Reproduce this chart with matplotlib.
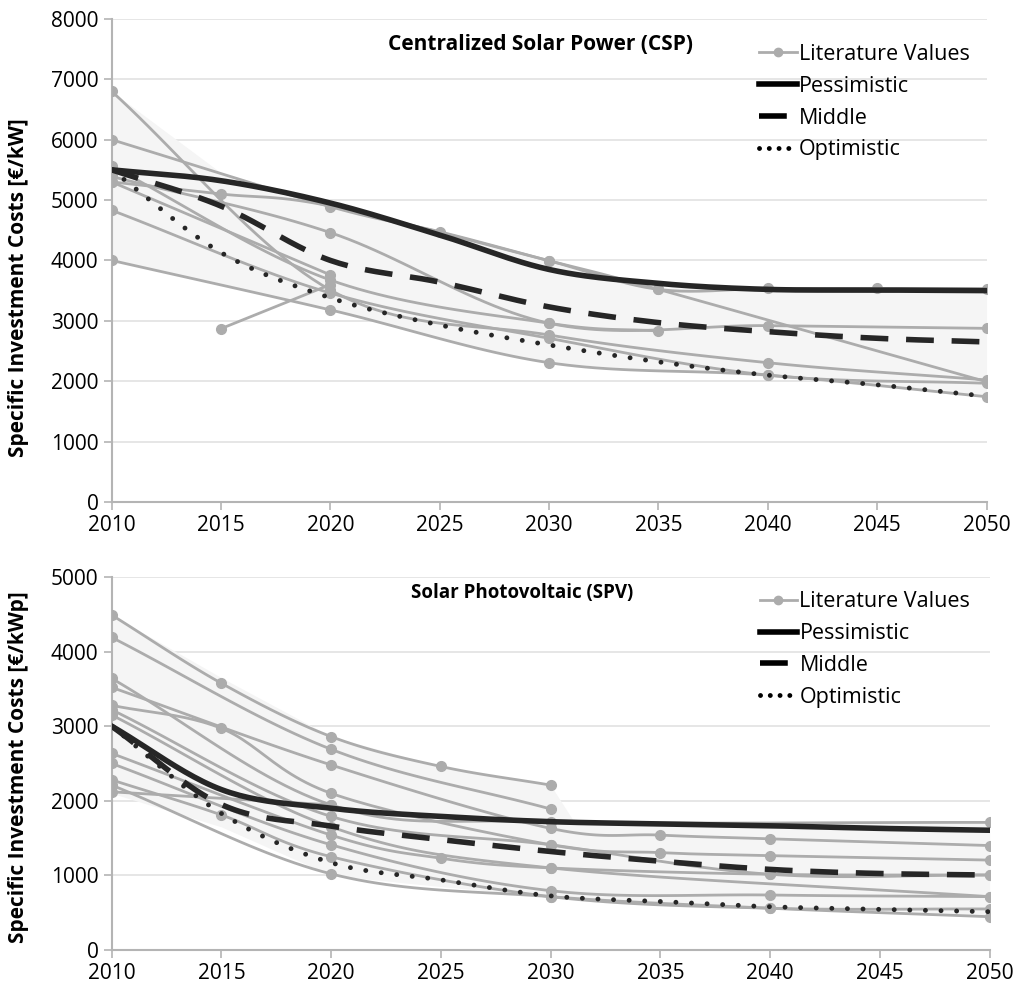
import matplotlib
matplotlib.use('Agg')
import matplotlib.pyplot as plt
from matplotlib.lines import Line2D
import numpy as np

plt.rcParams['font.family'] = ['Open Sans', 'DejaVu Sans']

# ---- CSP data (top panel) ----
csp_years = [2010, 2015, 2020, 2025, 2030, 2035, 2040, 2045, 2050]
csp_pess = [5500, 5320, 4950, 4420, 3850, 3620, 3520, 3510, 3500]
csp_mid = [5500, 4900, 4000, 3640, 3230, 2970, 2820, 2710, 2650]
csp_opt = [5500, 4130, 3380, 2930, 2600, 2320, 2100, 1940, 1750]

csp_lit = [
    ([2010, 2020, 2030, 2040, 2050], [6800, 3510, 2765, 2306, 2020]),
    ([2010, 2020, 2025, 2030, 2035, 2040, 2045, 2050], [6000, 4890, 4475, 3995, 3520, 3535, 3535, 3530]),
    ([2010, 2015, 2020, 2030, 2035, 2050], [5300, 5100, 4900, 3995, 3520, 1990]),
    ([2010, 2020, 2030, 2040, 2050], [5390, 4460, 2960, 2920, 2875]),
    ([2010, 2020, 2030, 2035], [5560, 3675, 2960, 2830]),
    ([2010, 2020, 2030, 2040, 2050], [4830, 3460, 2710, 2100, 1965]),
    ([2010, 2020, 2030, 2040, 2050], [4000, 3180, 2306, 2100, 1743]),
    ([2015, 2020], [2870, 3600]),
    ([2010, 2020], [5300, 3760]),
]
csp_band_years = [2010, 2015, 2020, 2025, 2030, 2035, 2040, 2050]
csp_band_hi = [6800, 5450, 4950, 4475, 4000, 3560, 3550, 3550]
csp_band_lo = [4000, 3590, 3180, 2700, 2306, 2180, 2080, 1743]

# ---- SPV data (bottom panel) ----
spv_years = [2010, 2015, 2020, 2025, 2030, 2035, 2040, 2045, 2050]
spv_pess = [3000, 2150, 1900, 1790, 1720, 1690, 1665, 1630, 1605]
spv_mid = [3000, 1950, 1660, 1480, 1320, 1190, 1080, 1025, 1005]
spv_opt = [3000, 1830, 1170, 940, 725, 650, 580, 545, 513]

spv_lit = [
    ([2010, 2015, 2020, 2025, 2030], [4490, 3575, 2860, 2460, 2210]),
    ([2010, 2020, 2030], [4190, 2690, 1890]),
    ([2010, 2020, 2030, 2050], [3640, 1945, 1720, 1710]),
    ([2010, 2020, 2030, 2035, 2040, 2050], [3520, 2480, 1630, 1540, 1490, 1400]),
    ([2010, 2015, 2020, 2030, 2035, 2040, 2050], [3280, 2970, 2100, 1410, 1305, 1265, 1205]),
    ([2010, 2020, 2030, 2040, 2050], [3220, 1790, 1410, 1015, 1005]),
    ([2010, 2020, 2030, 2050], [3150, 1650, 1100, 715]),
    ([2010, 2020, 2025, 2030, 2040, 2050], [2635, 1540, 1230, 1100, 1015, 1005]),
    ([2010, 2020, 2030, 2040, 2050], [2500, 1410, 795, 737, 715]),
    ([2010, 2015, 2020, 2030, 2040, 2050], [2280, 1810, 1250, 715, 560, 550]),
    ([2010, 2020, 2030, 2040, 2050], [2210, 1020, 715, 560, 446]),
    ([2010, 2020], [2120, 1945]),
]
spv_band_years = [2010, 2015, 2020, 2025, 2030, 2031, 2040, 2050]
spv_band_hi = [4490, 3650, 2860, 2460, 2210, 1750, 1720, 1710]
spv_band_lo = [2100, 1650, 1000, 850, 715, 700, 550, 446]

GRAY = '#acacac'
DARK = '#262626'


def smooth(x, y, n=24):
    # Catmull-Rom curve through the points, like Excel's smoothed lines
    x = np.asarray(x, float)
    y = np.asarray(y, float)
    if len(x) < 3:
        return x, y
    px = np.concatenate([[2 * x[0] - x[1]], x, [2 * x[-1] - x[-2]]])
    py = np.concatenate([[2 * y[0] - y[1]], y, [2 * y[-1] - y[-2]]])
    xs, ys = [], []
    t = np.linspace(0, 1, n, endpoint=False)
    for i in range(1, len(px) - 2):
        for p, out in ((px, xs), (py, ys)):
            p0, p1, p2, p3 = p[i - 1], p[i], p[i + 1], p[i + 2]
            out.extend(0.5 * (2 * p1 + (-p0 + p2) * t + (2 * p0 - 5 * p1 + 4 * p2 - p3) * t ** 2
                              + (-p0 + 3 * p1 - 3 * p2 + p3) * t ** 3))
    xs.append(x[-1])
    ys.append(y[-1])
    return np.array(xs), np.array(ys)


def draw(ax, years, pess, mid, opt, lit, by, bhi, blo, ymax, title, tsize, tx, ty,
         ylabel, label_y, leg_anchor):
    ax.fill_between(by, blo, bhi, color='#f5f5f5', lw=0, zorder=1)
    for xs, vs in lit:
        sx, sy = smooth(xs, vs)
        ax.plot(sx, sy, color=GRAY, lw=2, zorder=2)
        ax.plot(xs, vs, 'o', color=GRAY, ms=7, zorder=3)
    sx, sy = smooth(years, pess)
    ax.plot(sx, sy, color=DARK, lw=4, zorder=5)
    sx, sy = smooth(years, mid)
    ax.plot(sx, sy, color=DARK, lw=4, dashes=(5, 3.2), zorder=5)
    sx, sy = smooth(years, opt)
    ax.plot(sx, sy, color=DARK, lw=3.5, dashes=(0.01, 3.2), dash_capstyle='round', zorder=5)

    ax.set_xlim(2010, 2050)
    ax.set_ylim(0, ymax)
    ax.set_xticks(range(2010, 2051, 5))
    ax.set_yticks(range(0, ymax + 1, 1000))
    ax.yaxis.grid(True, color='#e2e2e2', lw=1.2)
    ax.set_axisbelow(True)
    for s in ('top', 'right'):
        ax.spines[s].set_visible(False)
    for s in ('left', 'bottom'):
        ax.spines[s].set_color('#b4b4b4')
        ax.spines[s].set_linewidth(1.5)
    ax.tick_params(colors='#b4b4b4', labelcolor='black', labelsize=15, length=6, width=1.2)
    ax.set_ylabel(ylabel, fontsize=15, fontweight='bold')
    ax.yaxis.set_label_coords(-0.094, label_y)
    ax.text(tx, ty, title, transform=ax.transAxes, fontsize=tsize, fontweight='bold', ha='center', va='center')

    handles = [
        Line2D([], [], color=GRAY, lw=2, marker='o', ms=6),
        Line2D([], [], color='black', lw=4),
        Line2D([], [], color='black', lw=4, dashes=(5, 3.2)),
        Line2D([], [], color='black', lw=3.5, dashes=(0.01, 2.0), dash_capstyle='round'),
    ]
    ax.legend(handles, ['Literature Values', 'Pessimistic', 'Middle', 'Optimistic'],
              loc='upper left', bbox_to_anchor=leg_anchor, frameon=False, fontsize=15.5,
              handlelength=1.75, handletextpad=0.1, labelspacing=0.5, borderaxespad=0,
              borderpad=0)


fig = plt.figure(figsize=(10.15, 9.93), dpi=100)
ax1 = fig.add_axes([0.110, 0.4945, 0.862, 0.4865])
ax2 = fig.add_axes([0.110, 0.0433, 0.865, 0.3757])

draw(ax1, csp_years, csp_pess, csp_mid, csp_opt, csp_lit, csp_band_years, csp_band_hi, csp_band_lo,
     8000, 'Centralized Solar Power (CSP)', 15, 0.49, 0.946,
     'Specific Investment Costs [€/kW]', 0.443, (0.74, 0.948))
draw(ax2, spv_years, spv_pess, spv_mid, spv_opt, spv_lit, spv_band_years, spv_band_hi, spv_band_lo,
     5000, 'Solar Photovoltaic (SPV)', 13.5, 0.468, 0.957,
     'Specific Investment Costs [€/kWp]', 0.49, (0.738, 0.961))

fig.savefig('out.png', dpi=100)
